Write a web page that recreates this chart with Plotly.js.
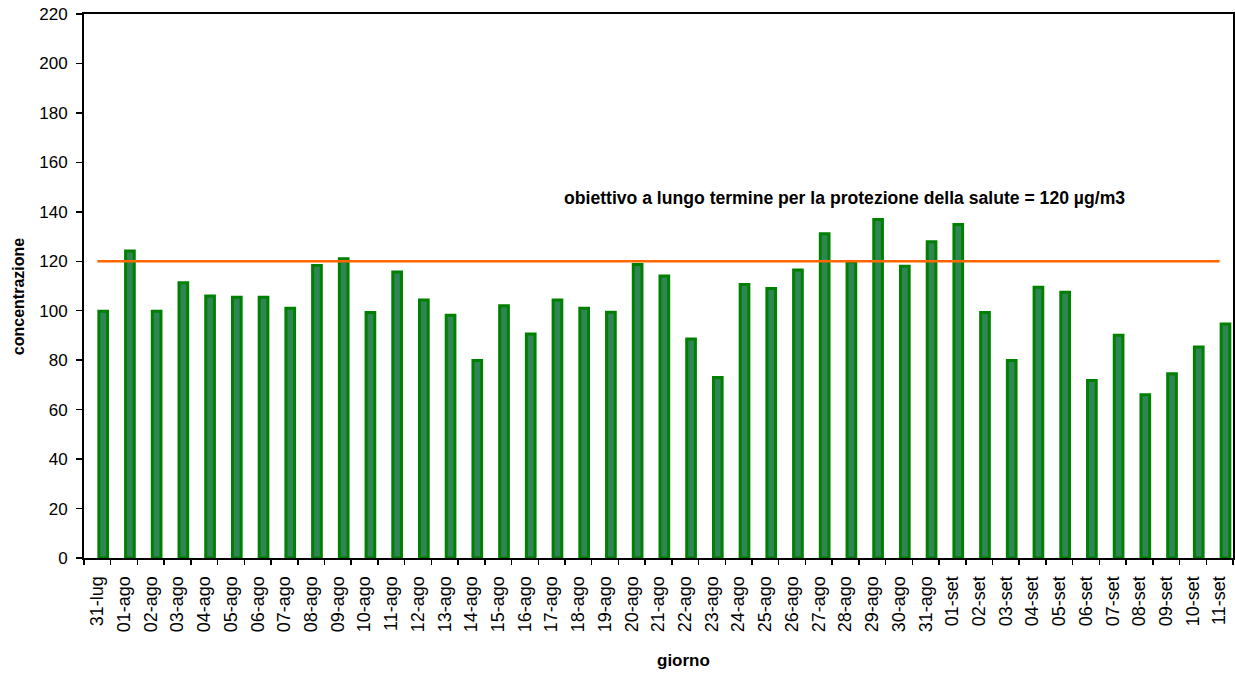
<!DOCTYPE html>
<html>
<head>
<meta charset="utf-8">
<script src="https://cdn.plot.ly/plotly-3.0.1.min.js"></script>
<style>html,body{margin:0;padding:0;background:#fff;}#chart{width:1235px;height:673px;}</style>
</head>
<body>
<div id="chart"></div>
<script>
const days = ["31-lug","01-ago","02-ago","03-ago","04-ago","05-ago","06-ago","07-ago","08-ago","09-ago",
  "10-ago","11-ago","12-ago","13-ago","14-ago","15-ago","16-ago","17-ago","18-ago","19-ago",
  "20-ago","21-ago","22-ago","23-ago","24-ago","25-ago","26-ago","27-ago","28-ago","29-ago",
  "30-ago","31-ago","01-set","02-set","03-set","04-set","05-set","06-set","07-set","08-set",
  "09-set","10-set","11-set"];
const concentrazione = [99.8, 124.2, 99.8, 111.3, 106.0, 105.5, 105.5, 101.0, 118.3, 121.0,
  99.3, 115.7, 104.3, 98.2, 79.9, 102.0, 90.6, 104.3, 101.0, 99.4,
  118.7, 114.0, 88.6, 73.0, 110.6, 109.0, 116.5, 131.1, 119.8, 136.9,
  118.0, 127.9, 134.9, 99.3, 79.9, 109.5, 107.5, 71.8, 90.1, 66.0,
  74.5, 85.3, 94.6];
const obiettivo = 120;
const obiettivoSeries = days.map(() => obiettivo);
const yTicks = [0,20,40,60,80,100,120,140,160,180,200,220];
const labelText = "obiettivo a lungo termine per la protezione della salute = 120 µg/m3";

const font = "Liberation Sans, Arial, sans-serif";

const data = [
  {
    type: "bar",
    x: days,
    y: concentrazione,
    width: 0.325,
    offset: 0.056,
    marker: {color: "#2f8554", line: {color: "#008000", width: 3}},
    hoverinfo: "x+y",
    showlegend: false
  },
  {
    type: "scatter",
    mode: "lines",
    x: days,
    y: obiettivoSeries,
    line: {color: "#FF6600", width: 2.5},
    hoverinfo: "skip",
    showlegend: false
  }
];

const layout = {
  width: 1235,
  height: 673,
  margin: {l: 84, r: 2, t: 14, b: 115},
  paper_bgcolor: "#ffffff",
  plot_bgcolor: "#ffffff",
  font: {family: font, size: 16, color: "#000"},
  showlegend: false,
  xaxis: {
    type: "category",
    range: [-0.5, days.length - 0.5],
    tickson: "boundaries",
    ticks: "outside",
    ticklen: 5,
    tickwidth: 1.5,
    tickcolor: "#000",
    tickangle: -90,
    ticklabelstandoff: 9,
    tickfont: {family: font, size: 18, color: "#000"},
    showline: true,
    linecolor: "#000",
    linewidth: 2,
    mirror: true,
    showgrid: false,
    zeroline: false,
    fixedrange: true
  },
  yaxis: {
    range: [0, 220],
    tickvals: yTicks,
    ticktext: yTicks.map(String),
    ticks: "outside",
    ticklen: 6,
    tickwidth: 1.5,
    tickcolor: "#000",
    ticklabelstandoff: 5,
    tickfont: {family: font, size: 17, color: "#000"},
    showline: true,
    linecolor: "#000",
    linewidth: 2,
    mirror: true,
    showgrid: false,
    zeroline: false,
    fixedrange: true
  },
  annotations: [
    {
      text: "<b>" + labelText + "</b>",
      xref: "paper", yref: "y",
      x: 0.662, y: 145.7,
      xanchor: "center", yanchor: "middle",
      showarrow: false,
      font: {family: font, size: 17.6, color: "#000"}
    },
    {
      text: "<b>concentrazione</b>",
      xref: "paper", yref: "y",
      x: -0.0574, y: 105.5,
      xanchor: "center", yanchor: "middle",
      textangle: -90,
      showarrow: false,
      font: {family: font, size: 16, color: "#000"}
    },
    {
      text: "<b>giorno</b>",
      xref: "paper", yref: "paper",
      x: 0.5216, y: -0.189,
      xanchor: "center", yanchor: "middle",
      showarrow: false,
      font: {family: font, size: 17, color: "#000"}
    }
  ]
};

Plotly.newPlot("chart", data, layout, {displayModeBar: false, staticPlot: true});
</script>
</body>
</html>
